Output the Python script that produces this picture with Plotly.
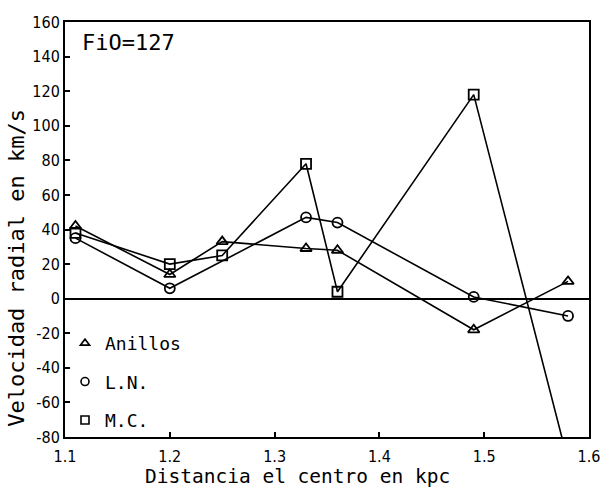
import plotly.graph_objects as go

# Distancia al centro (kpc) y velocidad radial (km/s) para cada método
dist_anillos = [1.11, 1.20, 1.25, 1.33, 1.36, 1.49, 1.58]
vel_anillos = [42, 14, 33, 29, 28, -18, 10]

dist_ln = [1.11, 1.20, 1.33, 1.36, 1.49, 1.58]
vel_ln = [35, 6, 47, 44, 1, -10]

dist_mc = [1.11, 1.20, 1.25, 1.33, 1.36, 1.49, 1.58]
vel_mc = [38, 20, 25, 78, 4, 118, -94]

series_names = ["Anillos", "L.N.", "M.C."]
series_symbols = ["triangle-up-open", "circle-open", "square-open"]

x_ticks = [1.1, 1.2, 1.3, 1.4, 1.5, 1.6]
y_ticks = list(range(-80, 161, 20))

TICK_FONT = dict(family="DejaVu Sans Condensed, Liberation Sans Narrow, Liberation Sans", size=16, color="black")
MONO = "DejaVu Sans Mono, monospace"

fig = go.Figure()

for xs, ys, name, sym in zip(
    [dist_anillos, dist_ln, dist_mc],
    [vel_anillos, vel_ln, vel_mc],
    series_names,
    series_symbols,
):
    fig.add_trace(go.Scatter(
        x=xs, y=ys, mode="lines+markers", name=name, showlegend=False,
        line=dict(color="black", width=1.6),
        marker=dict(symbol=sym, size=10, color="black", line=dict(width=1.8, color="black")),
        cliponaxis=True,
    ))

# Legend entries show only the marker symbol
for i, (name, sym) in enumerate(zip(series_names, series_symbols)):
    fig.add_trace(go.Scatter(
        x=[None], y=[None], mode="markers", name=name, legendgroup=f"g{i}",
        marker=dict(symbol=sym, size=8, color="black", line=dict(width=1.6, color="black")),
    ))

fig.add_annotation(
    x=0.028, y=0.95, xref="paper", yref="paper", xanchor="left", yanchor="middle",
    text="FiO=127", showarrow=False,
    font=dict(family=MONO, size=22, color="black"),
)

# Axis titles
fig.add_annotation(
    x=0.444, y=-0.094, xref="paper", yref="paper", xanchor="center", yanchor="middle",
    text="Distancia el centro en kpc", showarrow=False,
    font=dict(family=MONO, size=19.5, color="black"),
)
fig.add_annotation(
    x=-0.094, y=0.407, xref="paper", yref="paper", xanchor="center", yanchor="middle",
    text="Velocidad radial en km/s", showarrow=False, textangle=-90,
    font=dict(family=MONO, size=22, color="black"),
)

fig.update_layout(
    width=612, height=491,
    margin=dict(l=65, r=13, t=22, b=54),
    paper_bgcolor="white", plot_bgcolor="white",
    showlegend=True,
    legend=dict(
        x=0.0, y=0.27, xanchor="left", yanchor="top",
        bgcolor="rgba(0,0,0,0)", borderwidth=0,
        font=dict(family=MONO, size=18, color="black"),
        tracegroupgap=12, itemwidth=30,
    ),
    xaxis=dict(
        range=[1.1, 1.6], tickvals=x_ticks, ticktext=[f"{v:.1f}" for v in x_ticks],
        ticks="inside", ticklen=5, tickwidth=1.5, tickcolor="black",
        showline=True, linecolor="black", linewidth=2, mirror=True,
        showgrid=False, zeroline=False, tickfont=TICK_FONT, ticklabelstandoff=4,
    ),
    yaxis=dict(
        range=[-80, 160], tickvals=y_ticks, ticktext=[str(v) for v in y_ticks],
        ticks="inside", ticklen=5, tickwidth=1.5, tickcolor="black",
        showline=True, linecolor="black", linewidth=2, mirror=True,
        showgrid=False, zeroline=True, zerolinecolor="black", zerolinewidth=1.8,
        tickfont=TICK_FONT,
    ),
)

fig.write_html("out.html")
